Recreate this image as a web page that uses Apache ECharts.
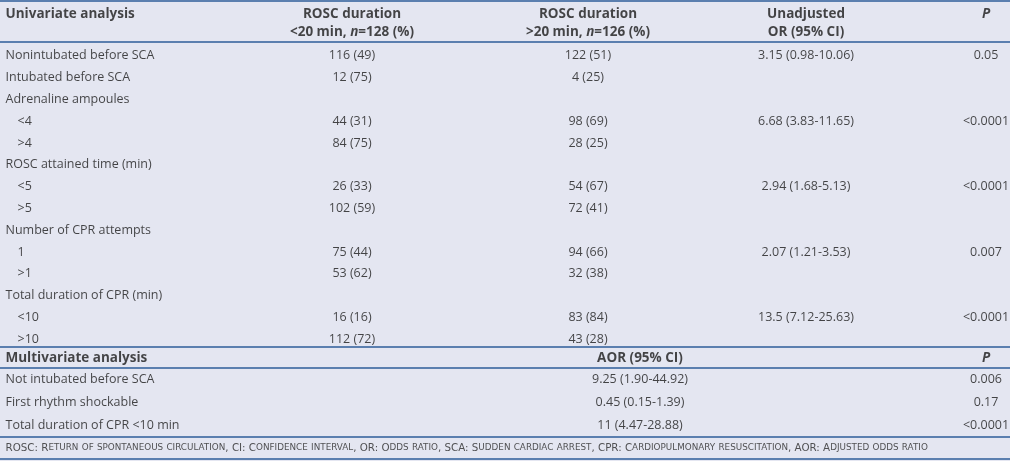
<!DOCTYPE html>
<html>
<head>
<meta charset="utf-8">
<script src="https://cdn.jsdelivr.net/npm/echarts@6/dist/echarts.min.js"></script>
<style>
  html, body { margin: 0; padding: 0; background: #e4e6f1; }
  #chart { width: 1010px; height: 461px; }
</style>
</head>
<body>
<div id="chart"></div>
<script>
// ---------- DATA ----------
const uniRows = ['Nonintubated before SCA', 'Intubated before SCA', 'Adrenaline ampoules', '<4', '>4',
  'ROSC attained time (min)', '<5', '>5', 'Number of CPR attempts', '1', '>1',
  'Total duration of CPR (min)', '<10', '>10'];
const lt20N   = [116, 12, null, 44, 84, null, 26, 102, null, 75, 53, null, 16, 112];
const lt20Pct = [49, 75, null, 31, 75, null, 33, 59, null, 44, 62, null, 16, 72];
const gt20N   = [122, 4, null, 98, 28, null, 54, 72, null, 94, 32, null, 83, 43];
const gt20Pct = [51, 25, null, 69, 25, null, 67, 41, null, 66, 38, null, 84, 28];
const unadjOR = ['3.15 (0.98-10.06)', '', '', '6.68 (3.83-11.65)', '', '', '2.94 (1.68-5.13)', '', '',
  '2.07 (1.21-3.53)', '', '', '13.5 (7.12-25.63)', ''];
const uniP    = ['0.05', '', '', '<0.0001', '', '', '<0.0001', '', '', '0.007', '', '', '<0.0001', ''];

const multiRows = ['Not intubated before SCA', 'First rhythm shockable', 'Total duration of CPR <10 min'];
const aorCI     = ['9.25 (1.90-44.92)', '0.45 (0.15-1.39)', '11 (4.47-28.88)'];
const multiP    = ['0.006', '0.17', '<0.0001'];

const headUni   = ['Univariate analysis', 'ROSC duration', '<20 min, |n|=128 (%)', 'ROSC duration',
  '>20 min, |n|=126 (%)', 'Unadjusted', 'OR (95% CI)', 'P'];
const headMulti = ['Multivariate analysis', 'AOR (95% CI)', 'P'];
const footnote  = 'ROSC: Return of spontaneous circulation, CI: Confidence interval, OR: Odds ratio, SCA: Sudden cardiac arrest, CPR: Cardiopulmonary resuscitation, AOR: Adjusted odds ratio';

// ---------- LAYOUT / STYLE ----------
const FONT = 'Open Sans';
const TXT = '#1a1a1a';
const LINE = '#2e5c98';
const BODY_SIZE = 12.5;
const HEAD_SIZE = 13.5;
const X = { label: 5, sub: 17, c2: 352, c3: 588, c4: 806, c5: 986, aor: 640 };

const chart = echarts.init(document.getElementById('chart'), null, { renderer: 'canvas' });

function fmtNP(n, p) { return n == null ? '' : n + ' (' + p + ')'; }
const lt20 = lt20N.map((n, i) => fmtNP(n, lt20Pct[i]));
const gt20 = gt20N.map((n, i) => fmtNP(n, gt20Pct[i]));

function isSub(s) { return /^[<>0-9]/.test(s); }

function smallCaps(s) {
  let out = '', cur = null, buf = '';
  for (const ch of s) {
    const t = (ch >= 'a' && ch <= 'z') ? 'sc' : 'cap';
    if (t !== cur) { if (buf) out += '{' + cur + '|' + buf + '}'; buf = ''; cur = t; }
    buf += ch.toUpperCase();
  }
  if (buf) out += '{' + cur + '|' + buf + '}';
  return out;
}

function headRich(s) {
  const parts = s.split('|');
  if (parts.length === 1) return '{b|' + s + '}';
  return '{b|' + parts[0] + '}{bi|' + parts[1] + '}{b|' + parts[2] + '}';
}

const grids = [
  { left: 0, right: 0, top: 1, height: 41 },
  { left: 0, right: 0, top: 42, height: 305 },
  { left: 0, right: 0, top: 347, height: 21 },
  { left: 0, right: 0, top: 368, height: 69 },
  { left: 0, right: 0, top: 437, height: 22 }
];
const rowKeys = [['h1', 'h2'], uniRows.map((_, i) => 'u' + i), ['m'], multiRows.map((_, i) => 'v' + i), ['f']];

const xAxes = grids.map((g, i) => ({
  gridIndex: i, type: 'value', min: 0, max: 1010, position: 'bottom',
  axisLine: { show: true, onZero: false, lineStyle: { color: LINE, width: 1.5 } },
  axisTick: { show: false }, axisLabel: { show: false }, splitLine: { show: false }
}));
xAxes.push({
  gridIndex: 0, type: 'value', min: 0, max: 1010, position: 'top',
  axisLine: { show: true, onZero: false, lineStyle: { color: LINE, width: 1.5 } },
  axisTick: { show: false }, axisLabel: { show: false }, splitLine: { show: false }
});
const yAxes = grids.map((g, i) => ({
  gridIndex: i, type: 'category', inverse: true, data: rowKeys[i], show: false
}));

const richHead = {
  b: { fontFamily: FONT, fontWeight: 'bold', fontSize: HEAD_SIZE, color: TXT },
  bi: { fontFamily: FONT, fontWeight: 'bold', fontStyle: 'italic', fontSize: HEAD_SIZE, color: TXT }
};

function textSeries(gi, items, align, opts) {
  opts = opts || {};
  return {
    type: 'scatter', xAxisIndex: gi, yAxisIndex: gi, symbolSize: 1,
    itemStyle: { color: 'rgba(0,0,0,0)' }, silent: true,
    data: items.filter(d => d[2] !== ''),
    label: {
      show: true,
      position: align === 'left' ? 'right' : 'inside',
      distance: 0,
      align: align,
      verticalAlign: 'middle',
      offset: opts.offset || [0, 0],
      fontFamily: FONT, fontSize: BODY_SIZE, color: TXT,
      fontWeight: 'normal',
      rich: opts.rich,
      formatter: p => p.data[2]
    },
    emphasis: { disabled: true }
  };
}

const series = [];
series.push(textSeries(0, [[X.label, 0, '{b|' + headUni[0] + '}']], 'left', { rich: richHead, offset: [0, 3] }));
series.push(textSeries(0, [[X.c2, 0, headRich(headUni[1])], [X.c3, 0, headRich(headUni[3])],
  [X.c4, 0, headRich(headUni[5])], [X.c5, 0, '{bi|' + headUni[7] + '}']], 'center', { rich: richHead, offset: [0, 3] }));
series.push(textSeries(0, [[X.c2, 1, headRich(headUni[2])], [X.c3, 1, headRich(headUni[4])],
  [X.c4, 1, headRich(headUni[6])]], 'center', { rich: richHead, offset: [0, 0] }));

series.push(textSeries(1, uniRows.map((s, i) => [isSub(s) ? X.sub : X.label, i, s]), 'left', { offset: [0, 3] }));
series.push(textSeries(1, lt20.map((s, i) => [X.c2, i, s]), 'center', { offset: [0, 3] }));
series.push(textSeries(1, gt20.map((s, i) => [X.c3, i, s]), 'center', { offset: [0, 3] }));
series.push(textSeries(1, unadjOR.map((s, i) => [X.c4, i, s]), 'center', { offset: [0, 3] }));
series.push(textSeries(1, uniP.map((s, i) => [X.c5, i, s]), 'center', { offset: [0, 3] }));

series.push(textSeries(2, [[X.label, 0, '{b|' + headMulti[0] + '}']], 'left', { rich: richHead, offset: [0, 1] }));
series.push(textSeries(2, [[X.aor, 0, '{b|' + headMulti[1] + '}'], [X.c5, 0, '{bi|' + headMulti[2] + '}']], 'center', { rich: richHead, offset: [0, 1] }));

series.push(textSeries(3, multiRows.map((s, i) => [X.label, i, s]), 'left', { offset: [0, 0] }));
series.push(textSeries(3, aorCI.map((s, i) => [X.aor, i, s]), 'center', { offset: [0, 0] }));
series.push(textSeries(3, multiP.map((s, i) => [X.c5, i, s]), 'center', { offset: [0, 0] }));

series.push(textSeries(4, [[X.label, 0, smallCaps(footnote)]], 'left', {
  rich: {
    cap: { fontFamily: 'DejaVu Sans', fontSize: 10.3, color: '#2a2a2a' },
    sc: { fontFamily: 'DejaVu Sans', fontSize: 8.8, color: '#2a2a2a' }
  }
}));

chart.setOption({
  backgroundColor: '#e4e6f1',
  animation: false,
  tooltip: { show: false },
  grid: grids,
  xAxis: xAxes,
  yAxis: yAxes,
  series: series
});
</script>
</body>
</html>
